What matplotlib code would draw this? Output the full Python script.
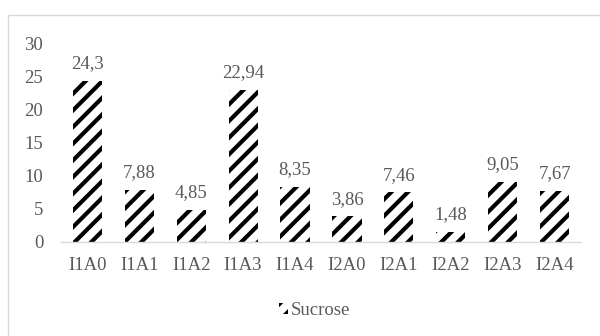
import matplotlib.pyplot as plt
from matplotlib.patches import Rectangle

# Sucrose content per treatment
treatments = ['I1A0', 'I1A1', 'I1A2', 'I1A3', 'I1A4',
              'I2A0', 'I2A1', 'I2A2', 'I2A3', 'I2A4']
sucrose = [24.3, 7.88, 4.85, 22.94, 8.35, 3.86, 7.46, 1.48, 9.05, 7.67]
y_ticks = [0, 5, 10, 15, 20, 25, 30]

plt.rcParams['font.family'] = ['Liberation Serif', 'DejaVu Serif']
plt.rcParams['hatch.linewidth'] = 3.0
TEXT = '#595959'
GRID = '#d9d9d9'
FS = 13.5

fig = plt.figure(figsize=(6, 3.36), dpi=100)
ax = fig.add_axes([0.102, 0.28, 0.866, 0.592])

# chart-area frame
fig.patches.append(Rectangle((8 / 600, -0.1), 1.0, 1 - 14.5 / 336 + 0.1,
                             transform=fig.transFigure, fill=False,
                             edgecolor=GRID, linewidth=1.0))

x = range(len(treatments))
bars = ax.bar(x, sucrose, width=0.56, color='white', edgecolor='black',
              linewidth=0, hatch='//', label='Sucrose')

for xi, v in zip(x, sucrose):
    ax.text(xi, v + 1.3, f'{v:g}'.replace('.', ','), ha='center', va='bottom',
            fontsize=FS, color=TEXT)

ax.set_xlim(-0.5, len(treatments) - 0.5)
ax.set_ylim(0, 30)
ax.set_yticks(y_ticks)
ax.set_xticks(list(x))
ax.set_xticklabels(treatments)
ax.tick_params(axis='both', length=0, labelsize=FS, labelcolor=TEXT)
ax.tick_params(axis='y', pad=13)
ax.tick_params(axis='x', pad=11)

for side in ['top', 'right', 'left']:
    ax.spines[side].set_visible(False)
ax.spines['bottom'].set_color(GRID)
ax.spines['bottom'].set_linewidth(1.0)

leg = ax.legend(loc='center', bbox_to_anchor=(0.488, -0.345), frameon=False,
                fontsize=FS, handlelength=0.5, handleheight=0.5,
                handletextpad=0.15)
for t in leg.get_texts():
    t.set_color(TEXT)

fig.savefig('out.png', dpi=100)
